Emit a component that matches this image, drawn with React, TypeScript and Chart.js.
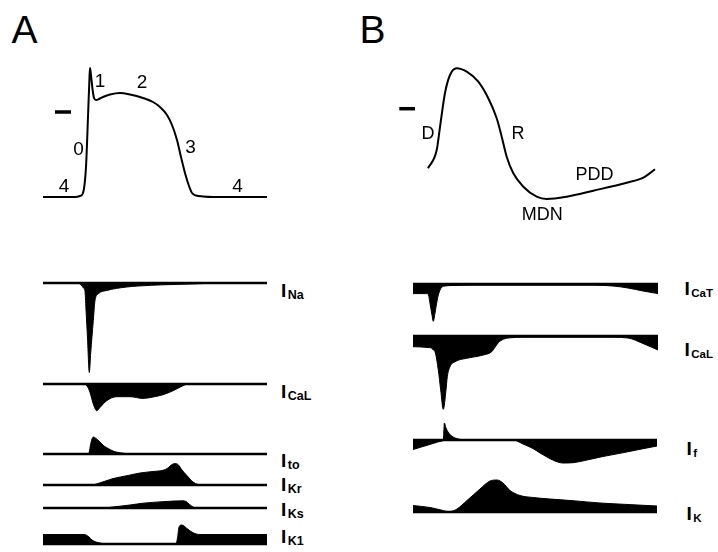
import React, { useEffect, useRef } from "react";
import { Chart, registerables } from "chart.js";

Chart.register(...registerables);

// ---------- Panel A: ventricular action potential ----------
const apATime = [0, 32, 37, 40, 43, 45, 46.5, 47, 48, 49.5, 51, 53, 56, 60, 67, 77, 87, 100, 110, 117, 124, 129, 134, 138, 142, 146, 149, 153, 160, 170, 224];
const apAVolt = [0, 0, 1, 4, 30, 80, 120, 129, 122, 108, 99, 97, 98, 100, 102.5, 104, 102.5, 99, 95, 90, 82, 72, 57, 40, 24, 11, 4, 1.5, 0.5, 0, 0];
const zeroMarkATime = [12, 28];
const zeroMarkAVolt = [85, 85];

// ---------- Panel B: nodal action potential ----------
const apBTime = [0, 8.7, 12, 17, 22, 28.7, 38.7, 50.3, 60.3, 68.7, 73.7, 78.7, 85.3, 95.3, 108.7, 118.7, 138.7, 165.3, 198.7, 215.3, 227];
const apBVolt = [30.7, 49, 72, 106, 124, 130.7, 127.3, 117.3, 100.7, 80.7, 62.3, 42.3, 25.7, 12.3, 2.3, 0, 2.3, 8.3, 16.3, 21.3, 29.7];
const zeroMarkBTime = [-28.7, -13];
const zeroMarkBVolt = [90.3, 90.3];

// ---------- Panel A currents ----------
const iNaTime = [0, 35, 38, 40.5, 42, 43.2, 44.5, 46.3, 47.7, 50.3, 52, 55.3, 63.7, 83.7, 95, 120, 154, 175, 224];
const iNaValue = [0, 0, -2, -5, -8.5, -30, -55, -89.5, -70, -37.5, -17.5, -10.8, -7.5, -4, -3, -1.8, -0.8, 0, 0];

const iCaLATime = [0, 41, 44, 47, 50.3, 53.7, 57, 63.7, 73.7, 87, 100, 110, 120, 130, 140, 145, 224];
const iCaLAValue = [0, 0, -2, -8.4, -20, -26.7, -23.4, -16.7, -12.7, -12.7, -14.4, -13, -10.7, -6.7, -1.7, 0, 0];

const iToTime = [0, 45, 46.3, 47.5, 49, 50.5, 53, 57, 61, 65.3, 70, 74, 80, 90, 224];
const iToValue = [0, 0, 2, 9, 15, 17, 15.5, 12, 8, 5.4, 3, 1.8, 0.8, 0, 0];

const iKrTime = [0, 48, 55, 70, 85, 97, 110, 120, 125, 129, 132, 135, 139, 143.7, 150, 155, 160, 224];
const iKrValue = [0, 0, 1.5, 6.4, 9.5, 12, 13.5, 14.7, 17, 20.5, 21.4, 20.5, 15, 9.7, 3, 0.5, 0, 0];

const iKsTime = [0, 60, 70, 87, 100, 120, 140, 143, 146, 150, 154, 224];
const iKsValue = [0, 0, 1, 3, 4.8, 6.3, 7.2, 6.5, 4, 1, 0, 0];

const iK1Time = [0, 41, 43.5, 46, 49, 53, 57, 62, 133, 134.5, 136, 138.7, 141, 143.7, 150, 157, 224];
const iK1Value = [9.5, 9.5, 8.8, 7, 4, 2, 1, 0.3, 0.3, 6, 17, 19, 18, 15.7, 11.3, 9.5, 9.5];

// ---------- Panel B currents ----------
const iCaTTime = [0, 14, 15.5, 17, 19, 20.3, 22, 24, 25.3, 27, 28.7, 32, 40, 60, 180, 200, 215, 230, 245];
const iCaTValue = [-9.6, -9.6, -11, -19.3, -31, -37.3, -29, -17, -11, -6, -3.3, -2, -1.5, -1.2, -1.2, -2, -4, -7, -9.6];

const iCaLBTime = [0, 15, 18.7, 20.3, 22, 25.3, 27.7, 30.3, 33, 34.3, 37, 42, 53.7, 70.3, 78.7, 82, 85.3, 90.3, 97, 110, 200, 215, 230, 245];
const iCaLBValue = [-10.7, -11.5, -12.3, -14, -15.7, -34, -54, -73.3, -54, -40.7, -30.7, -25.7, -22.3, -19, -15.7, -11.3, -6.7, -3.3, -1.8, -1.3, -1.3, -2, -7.5, -14];

const iFTime = [0, 10, 20, 29, 30.3, 30.8, 31.3, 33, 35, 38, 42, 48, 55, 100, 104, 110, 120, 127, 134, 142, 150, 160, 174, 190, 207, 226, 244];
const iFValue = [-9.5, -6.5, -3.5, -1, 0, 8, 17, 12, 8, 4.5, 2, 0.5, 0, 0, -1, -4, -8.5, -13, -17, -21, -23, -22.7, -20, -16.5, -13.3, -9.5, -6];

const iKTime = [0, 17, 28, 35, 40, 44, 54, 67, 77, 84, 90, 97, 107, 120, 137, 160, 187, 215, 244];
const iKValue = [6.5, 4.5, 2, 0.5, 1, 3, 11.5, 23, 31, 32, 29, 21.5, 16.5, 14.5, 13, 11.3, 9, 7.5, 6];

// ---------- text ----------
const phaseLabelsA = ["1", "2", "0", "3", "4", "4"];
const phaseLabelsB = ["D", "R", "PDD", "MDN"];
const currentSubsA = ["Na", "CaL", "to", "Kr", "Ks", "K1"];
const currentSubsB = ["CaT", "CaL", "f", "K"];

const FONT = '"Liberation Sans", Arial, Helvetica, sans-serif';

type TraceSpec = {
  kind: "ap" | "current";
  time: number[];
  value: number[];
  markTime?: number[];
  markValue?: number[];
  x0: number; // page x of time 0
  y0: number; // page y of value 0
  tMin: number;
  tMax: number;
  vMin: number;
  vMax: number;
};

const PAD = 5;

function toPts(t: number[], v: number[]) {
  return t.map((x, i) => ({ x, y: v[i] }));
}

function TraceChart({ spec }: { spec: TraceSpec }) {
  const ref = useRef<HTMLCanvasElement>(null);
  const w = spec.tMax - spec.tMin + 2 * PAD;
  const h = spec.vMax - spec.vMin + 2 * PAD;
  const left = spec.x0 + spec.tMin - PAD;
  const top = spec.y0 - spec.vMax - PAD;

  useEffect(() => {
    const datasets: any[] = [];
    if (spec.kind === "current") {
      datasets.push({
        data: toPts(spec.time, spec.value),
        borderColor: "#000",
        backgroundColor: "#000",
        borderWidth: 1,
        fill: "origin",
        pointRadius: 0,
        cubicInterpolationMode: "monotone",
      });
      const tEnd = spec.time[spec.time.length - 1];
      datasets.push({
        data: toPts([spec.time[0], tEnd], [0, 0]),
        borderColor: "#000",
        borderWidth: 2.5,
        fill: false,
        pointRadius: 0,
      });
    } else {
      datasets.push({
        data: toPts(spec.time, spec.value),
        borderColor: "#000",
        borderWidth: 2,
        fill: false,
        pointRadius: 0,
        cubicInterpolationMode: "monotone",
      });
      if (spec.markTime && spec.markValue) {
        datasets.push({
          data: toPts(spec.markTime, spec.markValue),
          borderColor: "#000",
          borderWidth: 3.5,
          borderCapStyle: "butt",
          fill: false,
          pointRadius: 0,
        });
      }
    }
    const chart = new Chart(ref.current!, {
      type: "line",
      data: { datasets },
      options: {
        animation: false,
        responsive: false,
        devicePixelRatio: 1,
        events: [],
        layout: { padding: 0 },
        plugins: { legend: { display: false }, tooltip: { enabled: false }, title: { display: false } },
        scales: {
          x: { type: "linear", display: false, min: spec.tMin - PAD, max: spec.tMax + PAD },
          y: { type: "linear", display: false, min: spec.vMin - PAD, max: spec.vMax + PAD },
        },
      } as any,
    });
    return () => chart.destroy();
  }, []);

  return (
    <canvas
      ref={ref}
      width={w}
      height={h}
      style={{ position: "absolute", left, top, width: w, height: h }}
    />
  );
}

function Text({ text, cx, base, size, bold }: { text: string; cx: number; base: number; size: number; bold?: boolean }) {
  return (
    <div
      style={{
        position: "absolute",
        left: cx - 60,
        width: 120,
        top: base - 0.8465 * size,
        fontFamily: FONT,
        fontSize: size,
        lineHeight: `${size}px`,
        fontWeight: bold ? 700 : 400,
        textAlign: "center",
        whiteSpace: "nowrap",
        color: "#000",
      }}
    >
      {text}
    </div>
  );
}

function CurrentLabel({ sub, left, base, subSize }: { sub: string; left: number; base: number; subSize: number }) {
  const size = 19;
  return (
    <div
      style={{
        position: "absolute",
        left,
        top: base - 0.8465 * size,
        fontFamily: FONT,
        fontSize: size,
        lineHeight: `${size}px`,
        fontWeight: 700,
        whiteSpace: "nowrap",
        color: "#000",
      }}
    >
      I
      <span style={{ fontSize: subSize, position: "relative", top: 2, marginLeft: 1.5 }}>{sub}</span>
    </div>
  );
}

const traces: TraceSpec[] = [
  { kind: "ap", time: apATime, value: apAVolt, markTime: zeroMarkATime, markValue: zeroMarkAVolt, x0: 43, y0: 197, tMin: 0, tMax: 224, vMin: 0, vMax: 130 },
  { kind: "ap", time: apBTime, value: apBVolt, markTime: zeroMarkBTime, markValue: zeroMarkBVolt, x0: 428, y0: 199, tMin: -30, tMax: 228, vMin: 0, vMax: 132 },
  { kind: "current", time: iNaTime, value: iNaValue, x0: 43, y0: 282.5, tMin: 0, tMax: 224, vMin: -90, vMax: 0 },
  { kind: "current", time: iCaLATime, value: iCaLAValue, x0: 43, y0: 383.5, tMin: 0, tMax: 224, vMin: -27, vMax: 0 },
  { kind: "current", time: iToTime, value: iToValue, x0: 43, y0: 453.7, tMin: 0, tMax: 224, vMin: 0, vMax: 17 },
  { kind: "current", time: iKrTime, value: iKrValue, x0: 43, y0: 484.7, tMin: 0, tMax: 224, vMin: 0, vMax: 22 },
  { kind: "current", time: iKsTime, value: iKsValue, x0: 43, y0: 508, tMin: 0, tMax: 224, vMin: 0, vMax: 8 },
  { kind: "current", time: iK1Time, value: iK1Value, x0: 43, y0: 544, tMin: 0, tMax: 224, vMin: 0, vMax: 20 },
  { kind: "current", time: iCaTTime, value: iCaTValue, x0: 413, y0: 283.7, tMin: 0, tMax: 245, vMin: -38, vMax: 0 },
  { kind: "current", time: iCaLBTime, value: iCaLBValue, x0: 413, y0: 336, tMin: 0, tMax: 245, vMin: -74, vMax: 0 },
  { kind: "current", time: iFTime, value: iFValue, x0: 413, y0: 440, tMin: 0, tMax: 245, vMin: -24, vMax: 18 },
  { kind: "current", time: iKTime, value: iKValue, x0: 413, y0: 511.5, tMin: 0, tMax: 245, vMin: 0, vMax: 33 },
];

const phasePosA = [
  [100, 87], [142, 88], [78.5, 155], [190.5, 153], [64, 192], [237.5, 192],
];
const phasePosB = [
  [428, 139.3], [518, 139.5], [594.5, 180], [542.3, 220.7],
];
const currentPosA = [
  [281, 296.7], [281, 398.3], [281, 466.7], [281, 491], [281, 516], [281, 542.7],
];
const currentPosB = [
  [684.5, 295], [684.5, 356], [686.5, 455], [686.5, 520],
];

export default function App() {
  return (
    <div style={{ position: "fixed", left: 0, top: 0, width: 718, height: 552, background: "#fff", overflow: "hidden" }}>
      {traces.map((s, i) => (
        <TraceChart key={i} spec={s} />
      ))}
      <Text text="A" cx={24.5} base={43} size={39} />
      <Text text="B" cx={372.5} base={43} size={39} />
      {phaseLabelsA.map((t, i) => (
        <Text key={"pa" + i} text={t} cx={phasePosA[i][0]} base={phasePosA[i][1]} size={19} />
      ))}
      {phaseLabelsB.map((t, i) => (
        <Text key={"pb" + i} text={t} cx={phasePosB[i][0]} base={phasePosB[i][1]} size={18} />
      ))}
      {currentSubsA.map((s, i) => (
        <CurrentLabel key={"ca" + i} sub={s} left={currentPosA[i][0]} base={currentPosA[i][1]} subSize={12.5} />
      ))}
      {currentSubsB.map((s, i) => (
        <CurrentLabel key={"cb" + i} sub={s} left={currentPosB[i][0]} base={currentPosB[i][1]} subSize={11.5} />
      ))}
    </div>
  );
}
